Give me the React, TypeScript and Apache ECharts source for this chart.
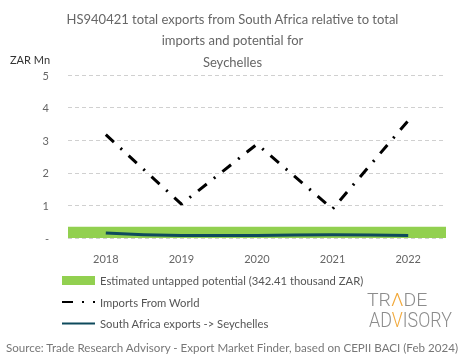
import React, { useEffect, useRef } from "react";
import * as echarts from "echarts";

const years = ["2018", "2019", "2020", "2021", "2022"];
const importsFromWorld = [3.17, 1.04, 2.88, 0.89, 3.6];
const saExports = [0.15, 0.08, 0.08, 0.1, 0.08];
const potential = 0.34241;
const yTicks = [0, 1, 2, 3, 4, 5];

const FONT = "Lato";
const GREY = "#666";
const ORANGE = "#f2a93b";
const LOGO_GREY = "#8c8c8c";

export default function App() {
  const ref = useRef<HTMLDivElement>(null);
  useEffect(() => {
    const chart = echarts.init(ref.current!, null, { renderer: "svg" });
    chart.setOption({
      animation: false,
      textStyle: { fontFamily: FONT },
      title: {
        text: "HS940421 total exports from South Africa relative to total\nimports and potential for\nSeychelles",
        left: "center",
        top: 3,
        textStyle: { fontSize: 13, fontWeight: "normal", color: GREY, lineHeight: 21.5, fontFamily: FONT },
      },
      grid: { left: 68, right: 19, top: 75, bottom: 121 },
      xAxis: {
        type: "category",
        data: years,
        boundaryGap: true,
        axisLine: { show: false },
        axisTick: { show: false },
        axisLabel: { color: GREY, fontSize: 11, margin: 15, fontFamily: FONT },
      },
      yAxis: {
        type: "value",
        min: yTicks[0],
        max: yTicks[yTicks.length - 1],
        interval: 1,
        axisLine: { show: false },
        axisTick: { show: false },
        axisLabel: {
          color: GREY,
          fontSize: 11,
          margin: 19,
          fontFamily: FONT,
          formatter: (v: number) => (v === 0 ? "-" : String(v)),
        },
        splitLine: { lineStyle: { color: "#d0d0d0", type: [4, 3], width: 1 } },
      },
      legend: {
        orient: "vertical",
        left: 56,
        top: 270,
        itemWidth: 33,
        itemHeight: 9,
        itemGap: 10.5,
        textStyle: { color: "#555", fontSize: 11.25, fontFamily: FONT },
        data: [
          { name: "Estimated untapped potential (342.41 thousand ZAR)", icon: "rect" },
          { name: "Imports From World", itemStyle: { opacity: 0 } },
          { name: "South Africa exports -> Seychelles", itemStyle: { opacity: 0 } },
        ],
      },
      series: [
        {
          name: "Estimated untapped potential (342.41 thousand ZAR)",
          type: "line",
          data: [],
          itemStyle: { color: "#92d050" },
          lineStyle: { color: "#92d050" },
          markArea: {
            silent: true,
            itemStyle: { color: "#92d050", opacity: 1 },
            data: [[{ yAxis: 0 }, { yAxis: potential }]],
          },
        },
        {
          name: "Imports From World",
          type: "line",
          data: importsFromWorld,
          symbol: "none",
          itemStyle: { color: "#000" },
          lineStyle: { color: "#000", width: 3, type: [11, 9, 2, 9] },
          z: 3,
        },
        {
          name: "South Africa exports -> Seychelles",
          type: "line",
          data: saExports,
          symbol: "none",
          smooth: true,
          itemStyle: { color: "#0e4a5c" },
          lineStyle: { color: "#0e4a5c", width: 3 },
          z: 4,
        },
      ],
      graphic: [
        {
          type: "text",
          left: 10,
          top: 54,
          style: { text: "ZAR Mn", fill: "#333", fontSize: 11, fontFamily: FONT },
        },
        {
          type: "text",
          left: "center",
          top: 341,
          style: {
            text: "Source: Trade Research Advisory - Export Market Finder, based on CEPII BACI (Feb 2024)",
            fill: "#777",
            fontSize: 11.6,
            fontFamily: FONT,
          },
        },
        {
          type: "text",
          x: 367,
          y: 300,
          scaleX: 1.05,
          style: {
            text: "TR{o|Λ}DE",
            fill: LOGO_GREY,
            fontSize: 18.5,
            fontFamily: "Roboto",
            fontWeight: 300,
            verticalAlign: "middle",
            rich: { o: { fill: ORANGE, fontSize: 18.5, fontFamily: "Roboto", fontWeight: 300 } },
          },
        },
        {
          type: "text",
          x: 369,
          y: 320,
          scaleX: 0.85,
          style: {
            text: "AD{o|V}ISORY",
            fill: LOGO_GREY,
            fontSize: 21,
            fontFamily: "Roboto",
            fontWeight: 300,
            verticalAlign: "middle",
            rich: { o: { fill: ORANGE, fontSize: 21, fontFamily: "Roboto", fontWeight: 300 } },
          },
        },
      ],
    });
    return () => chart.dispose();
  }, []);
  return <div ref={ref} style={{ width: 465, height: 359, position: "fixed", left: 0, top: 0 }} />;
}
